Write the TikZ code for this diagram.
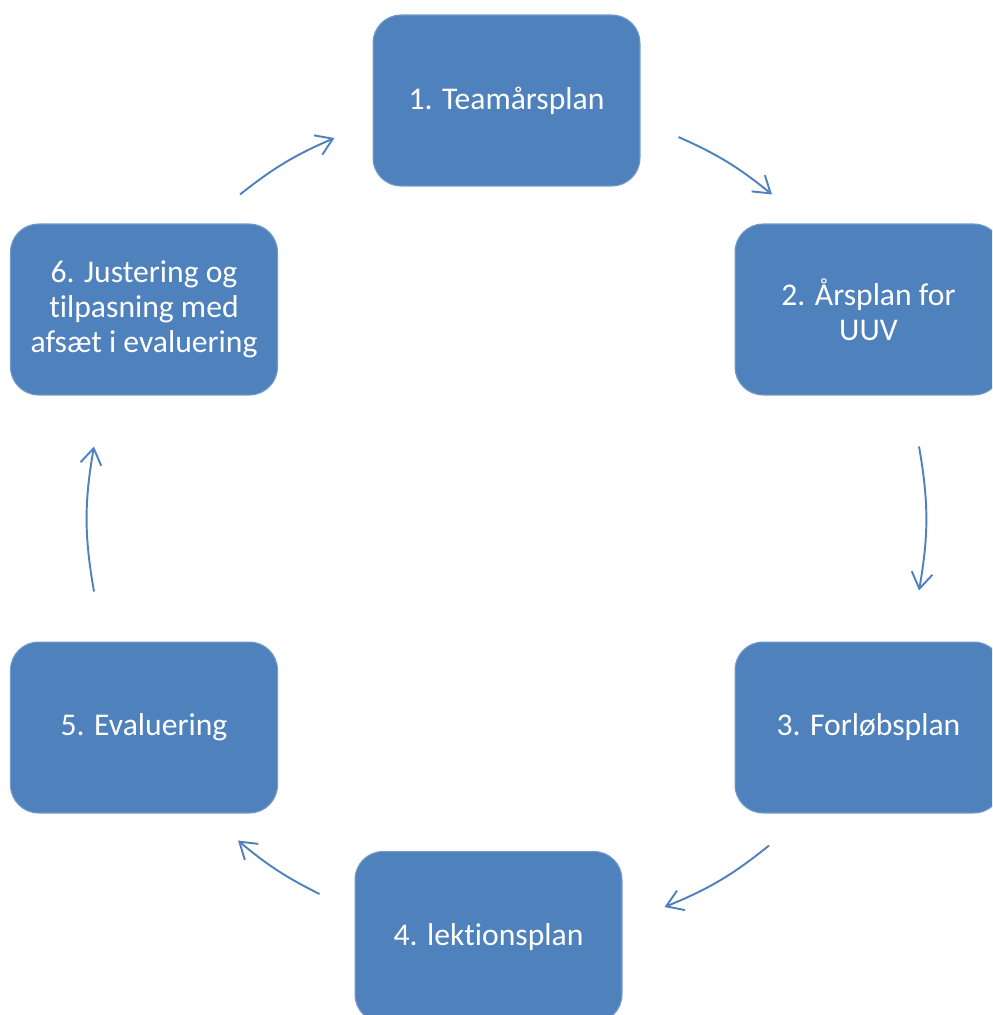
\documentclass[tikz,border=0pt]{standalone}
\usepackage{fontspec}
\setmainfont{Carlito}[Ligatures=NoCommon]
\usepackage{xcolor}
\usepackage{tikz}
\usetikzlibrary{arrows.meta}
\definecolor{boxblue}{HTML}{4F81BD}

\begin{document}
\begin{tikzpicture}[x=0.02cm,y=-0.02cm,
		box/.style={rectangle,rounded corners=0.56cm,fill=boxblue,draw=boxblue!80!white,line width=0.6pt,
			minimum width=5.34cm,minimum height=3.42cm,text=white,align=center,
			font=\fontsize{18}{19.8}\selectfont},
		>={Straight Barb[length=0.32cm,width=0.42cm]}]
		\clip (0,0) rectangle (992,1015);
		\node[box] (A) at (506.5,100.5) {1. Teamårsplan};
		\node[box] (B) at (868.5,309.5) {2. Årsplan for\\UUV};
		\node[box] (C) at (868.5,727.5) {3. Forløbsplan};
		\node[box] (D) at (488.5,937) {4. lektionsplan};
		\node[box] (E) at (144,727.5) {5. Evaluering};
		\node[box] (F) at (144,309.5) {6. Justering og\\tilpasning med\\afsæt i evaluering};
		%
		\path[->,color=boxblue,line width=1.1pt]
		([shift={(96,-29)}]F.north) edge[bend left=7.6] ([shift={(-38,37.5)}]A.west)
		([shift={(38,36.5)}]A.east) edge[bend left=7.6] ([shift={(-96.5,-29)}]B.north)
		([shift={(50.5,51)}]B.south) edge[bend left=10] ([shift={(50.5,-51)}]C.north)
		([shift={(-99.5,32)}]C.south) edge[bend left=8.4] ([shift={(42,-30)}]D.east)
		([shift={(-35,-43)}]D.west) edge[bend left=6.7] ([shift={(94,27)}]E.south)
		([shift={(-50,-50)}]E.north) edge[bend left=10] ([shift={(-50,51)}]F.south);
\end{tikzpicture}
\end{document}
